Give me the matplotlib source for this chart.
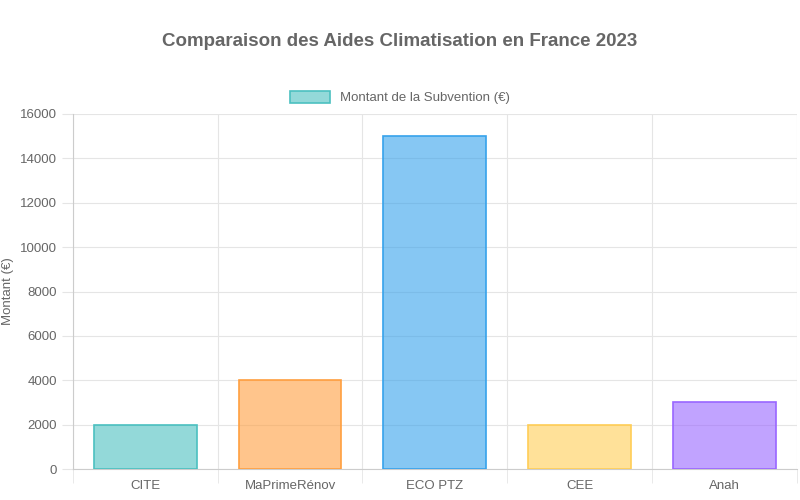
import matplotlib
matplotlib.use("Agg")
import matplotlib.pyplot as plt
import numpy as np

categories = ["CITE", "MaPrimeRénov", "ECO PTZ", "CEE", "Anah"]
values = [2000, 4000, 15000, 2000, 3000]
fills = [(75/255,192/255,192/255,0.6),(255/255,159/255,64/255,0.6),(54/255,162/255,235/255,0.6),(255/255,205/255,86/255,0.6),(153/255,102/255,255/255,0.6)]
edges = [(75/255,192/255,192/255),(255/255,159/255,64/255),(54/255,162/255,235/255),(255/255,205/255,86/255),(153/255,102/255,255/255)]

plt.rcParams['font.family'] = ['Liberation Sans', 'DejaVu Sans']
fig = plt.figure(figsize=(8,5), dpi=100)
ax = fig.add_axes([0.091, 0.062, 0.905, 0.71])
x = np.arange(len(categories))
ax.bar(x, values, width=0.71, color=fills, edgecolor=edges, linewidth=1.2, zorder=3, label="Montant de la Subvention (€)")
ax.set_xlim(-0.5, len(categories)-0.5)
ax.set_ylim(0, 16000)
ax.set_yticks(np.arange(0, 16001, 2000))
ax.set_xticks(x)
ax.set_xticklabels(categories)
ax.set_xticks(np.arange(-0.5, len(categories), 1), minor=True)
ax.grid(True, which='minor', axis='x', color='#e5e5e5', lw=0.8, zorder=0)
ax.grid(True, which='major', axis='y', color='#e5e5e5', lw=0.8, zorder=0)
ax.tick_params(axis='x', which='major', length=0, pad=8, labelcolor='#666', labelsize=9.5)
ax.tick_params(axis='x', which='minor', length=10, color='#e5e5e5')
ax.tick_params(axis='y', length=8, color='#e5e5e5', labelcolor='#666', labelsize=9.5)
for s in ['top','right']:
    ax.spines[s].set_visible(False)
ax.spines['left'].set_color('#cccccc')
ax.spines['bottom'].set_color('#cccccc')
ax.set_ylabel("Montant (€)", color='#666', fontsize=9.5)
fig.text(0.5, 0.917, "Comparaison des Aides Climatisation en France 2023", ha='center', va='center', fontsize=13.5, fontweight='bold', color='#666')
leg = fig.legend(loc='center', bbox_to_anchor=(0.5, 0.805), frameon=False, fontsize=9.5, handlelength=3, handleheight=1)
for t in leg.get_texts():
    t.set_color('#666')
fig.savefig("out.png", dpi=100)
